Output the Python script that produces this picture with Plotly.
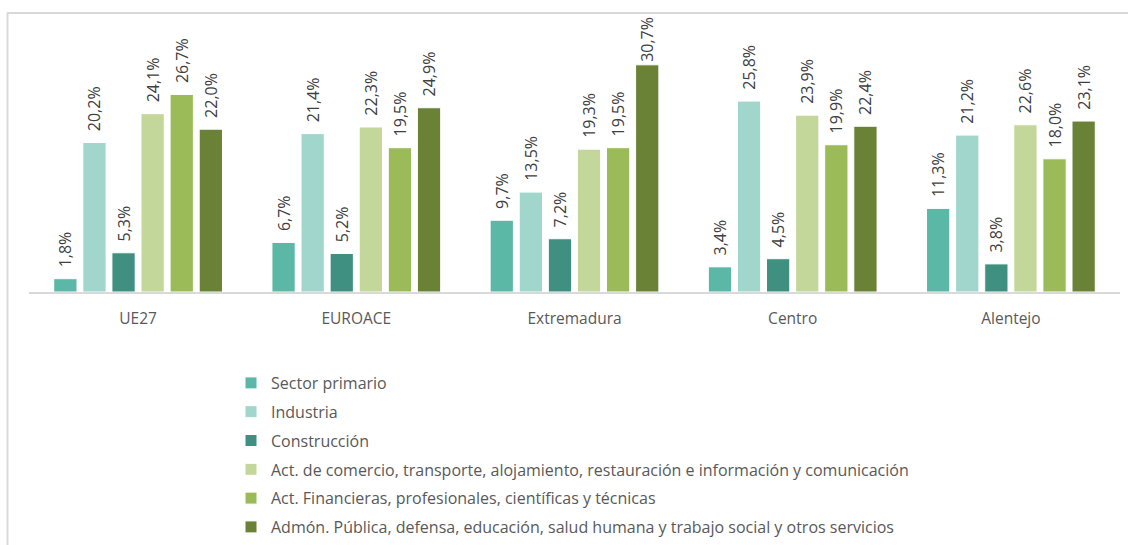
import plotly.graph_objects as go

categories = ["UE27", "EUROACE", "Extremadura", "Centro", "Alentejo"]
series_names = [
    "Sector primario",
    "Industria",
    "Construcción",
    "Act. de comercio, transporte, alojamiento, restauración e información y comunicación",
    "Act. Financieras, profesionales, científicas y técnicas",
    "Admón. Pública, defensa, educación, salud humana y trabajo social y otros servicios",
]
sector_primario = [1.8, 6.7, 9.7, 3.4, 11.3]
industria = [20.2, 21.4, 13.5, 25.8, 21.2]
construccion = [5.3, 5.2, 7.2, 4.5, 3.8]
comercio = [24.1, 22.3, 19.3, 23.9, 22.6]
financieras = [26.7, 19.5, 19.5, 19.9, 18.0]
admon = [22.0, 24.9, 30.7, 22.4, 23.1]
series_values = [sector_primario, industria, construccion, comercio, financieras, admon]
colors = ["#5CB8A6", "#A0D6CC", "#3F9080", "#C4D79B", "#9BBB59", "#6A8236"]

FONT = "Open Sans"
W, H = 1128, 545
ML, MR, MT, MB = 29, 8, 33, 253
PW = W - ML - MR
PH = H - MT - MB
Y_MAX = 35


def px_x(px):
    return (px - ML) / PW


def px_y(py):
    return (H - MB - py) / PH


def label(v):
    # labels near the top of the plot area sit closer to their bar
    pad = "" if v > 0.8 * Y_MAX else "\u00a0\u00a0"
    return pad + f"{v:.1f}%".replace(".", ",")


fig = go.Figure()
for i, (name, vals) in enumerate(zip(series_names, series_values)):
    fig.add_trace(go.Bar(
        name=name,
        x=categories,
        y=vals,
        marker=dict(color=colors[i], line=dict(color="white", width=1)),
        text=[label(v) for v in vals],
        textposition="outside",
        textangle=-90,
        constraintext="none",
        cliponaxis=False,
        textfont=dict(family=FONT, size=16, color="#404040"),
        legendgroup=f"g{i}",
        hoverinfo="skip",
    ))

fig.update_layout(
    width=W, height=H,
    margin=dict(l=ML, r=MR, t=MT, b=MB, pad=0, autoexpand=False),
    paper_bgcolor="white",
    plot_bgcolor="white",
    barmode="group",
    bargap=0.2,
    bargroupgap=0.2,
    font=dict(family=FONT, size=16, color="#595959"),
    xaxis=dict(
        showline=True, linecolor="#D9D9D9", linewidth=1.5,
        ticks="", showgrid=False, zeroline=False, automargin=False,
        tickfont=dict(family=FONT, size=15.5, color="#595959"),
        ticklabelstandoff=12,
    ),
    yaxis=dict(range=[0, Y_MAX], visible=False, showgrid=False, zeroline=False),
    showlegend=True,
    legend=dict(
        orientation="v",
        x=px_x(231), xanchor="left",
        y=px_y(366), yanchor="top",
        font=dict(family=FONT, size=16, color="#595959"),
        tracegroupgap=5,
        bgcolor="rgba(0,0,0,0)",
        itemclick=False,
    ),
    shapes=[
        dict(type="line", xref="paper", yref="paper",
             x0=px_x(7.5), x1=px_x(7.5), y0=px_y(13), y1=px_y(548),
             line=dict(color="#D9D9D9", width=2)),
        dict(type="line", xref="paper", yref="paper",
             x0=px_x(7), x1=px_x(1130), y0=px_y(13), y1=px_y(13),
             line=dict(color="#D9D9D9", width=2)),
    ],
)

fig.write_html("out.html", config={"displayModeBar": False},
               post_script="document.body.style.margin='0';")
